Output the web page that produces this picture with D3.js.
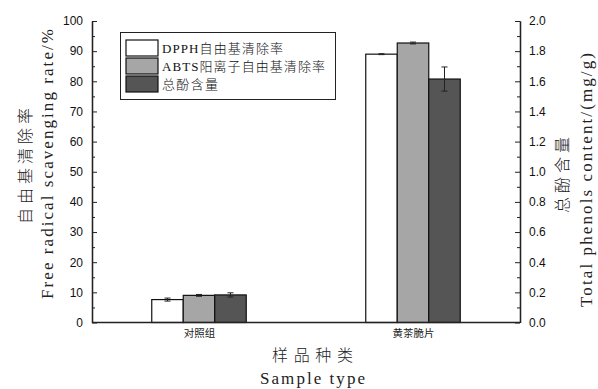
<!DOCTYPE html>
<html><head><meta charset="utf-8">
<script src="https://cdn.jsdelivr.net/npm/d3@7/dist/d3.min.js"></script>
<style>body{margin:0;background:#fff}</style>
</head><body>
<svg id="c" width="598" height="389"></svg>
<script>
const categories = ["对照组", "黄茶脆片"];
const seriesNames = ["DPPH自由基清除率", "ABTS阳离子自由基清除率", "总酚含量"];
const dpph = [7.6, 89.0];
const dpphErr = [0.5, 0.15];
const abts = [9.0, 92.7];
const abtsErr = [0.3, 0.3];
const phenols = [0.183, 1.615];
const phenolsErr = [0.014, 0.08];
const leftTicks = [0,10,20,30,40,50,60,70,80,90,100];
const rightTicks = [0,0.2,0.4,0.6,0.8,1.0,1.2,1.4,1.6,1.8,2.0];
const colors = ["#ffffff", "#a6a6a6", "#555555"];

const svg = d3.select("#c");
const L = 92, R = 520, T = 21, B = 322.5;
const yL = d3.scaleLinear().domain([0,100]).range([B,T]);
const yR = d3.scaleLinear().domain([0,2]).range([B,T]);
const x = d3.scalePoint().domain(categories).range([L,R]).padding(0.5);
const bw = 31.5;

const series = [
  {vals: dpph, err: dpphErr, y: yL},
  {vals: abts, err: abtsErr, y: yL},
  {vals: phenols, err: phenolsErr, y: yR}
];

series.forEach((s, si) => {
  categories.forEach((c, ci) => {
    const x0 = x(c) + (si - 1.5) * bw;
    const v = s.vals[ci];
    svg.append("rect").attr("x", x0).attr("y", s.y(v)).attr("width", bw)
      .attr("height", B - s.y(v)).attr("fill", colors[si]).attr("stroke", "#111").attr("stroke-width", 1.2);
    const cx = x0 + bw/2, e = s.err[ci];
    const g = svg.append("g").attr("stroke", "#222").attr("stroke-width", 1);
    g.append("line").attr("x1", cx).attr("x2", cx).attr("y1", s.y(v+e)).attr("y2", s.y(v-e));
    g.append("line").attr("x1", cx-3).attr("x2", cx+3).attr("y1", s.y(v+e)).attr("y2", s.y(v+e));
    g.append("line").attr("x1", cx-3).attr("x2", cx+3).attr("y1", s.y(v-e)).attr("y2", s.y(v-e));
  });
});

// axes
const tickFont = "Liberation Sans, Arial, sans-serif";
const la = svg.append("g").attr("transform", `translate(${L},0)`)
  .call(d3.axisLeft(yL).tickValues(leftTicks).tickSizeInner(-5).tickSizeOuter(0).tickPadding(9));
const lm = svg.append("g").attr("transform", `translate(${L},0)`)
  .call(d3.axisLeft(yL).tickValues(d3.range(5,100,10)).tickSizeInner(-3).tickSizeOuter(0).tickFormat(""));
const ra = svg.append("g").attr("transform", `translate(${R},0)`)
  .call(d3.axisRight(yR).tickValues(rightTicks).tickSizeInner(-5).tickSizeOuter(0).tickPadding(9).tickFormat(d3.format(".1f")));
const rm = svg.append("g").attr("transform", `translate(${R},0)`)
  .call(d3.axisRight(yR).tickValues(d3.range(0.1,2,0.2)).tickSizeInner(-3).tickSizeOuter(0).tickFormat(""));
const ba = svg.append("g").attr("transform", `translate(0,${B})`)
  .call(d3.axisBottom(x).tickSize(0).tickPadding(7).tickSizeOuter(0));
ba.select(".domain").attr("d", `M${L},0H${R}`);
[la, ra, lm, rm, ba].forEach(g => {
  g.selectAll(".domain").attr("stroke", "#222").attr("stroke-width", 1.3);
  g.selectAll(".tick line").attr("stroke", "#222").attr("stroke-width", 1);
});
[la, ra].forEach(g => g.selectAll("text").attr("font-family", tickFont).attr("font-size", 12).attr("fill", "#111"));
ba.selectAll("text").attr("font-family", "Noto Sans CJK SC, sans-serif").attr("font-size", 10.5).attr("fill", "#222");

// titles
const serif = "Liberation Serif, Times New Roman, Noto Sans CJK SC, serif";
function vtext(tx, ty, str, size, len) {
  svg.append("text").attr("transform", `translate(${tx},${ty}) rotate(-90)`)
    .attr("text-anchor", "middle").attr("font-family", serif).attr("font-size", size)
    .attr("font-weight", 300)
    .attr("textLength", len).attr("lengthAdjust", "spacing")
    .attr("fill", "#222").text(str);
}
vtext(31, 166, "自由基清除率", 16, 116);
vtext(53, 164, "Free radical scavenging rate/%", 17, 270);
vtext(568, 175, "总酚含量", 16, 76);
vtext(592, 180, "Total phenols content/(mg/g)", 17, 254);
svg.append("text").attr("x", 312.5).attr("y", 361).attr("text-anchor", "middle")
  .attr("font-family", serif).attr("font-size", 16).attr("font-weight", 300)
  .attr("textLength", 81).attr("lengthAdjust", "spacing")
  .attr("fill", "#222").text("样品种类");
svg.append("text").attr("x", 312.5).attr("y", 384).attr("text-anchor", "middle")
  .attr("font-family", serif).attr("font-size", 17).attr("textLength", 105).attr("lengthAdjust", "spacing")
  .attr("fill", "#222").text("Sample type");

// legend
const legendLens = [121, 163, 56];
const lg = svg.append("g");
lg.append("rect").attr("x", 120.5).attr("y", 32.5).attr("width", 215).attr("height", 67)
  .attr("fill", "#fff").attr("stroke", "#222").attr("stroke-width", 1);
seriesNames.forEach((n, i) => {
  const yy = 40 + i * 18;
  lg.append("rect").attr("x", 126).attr("y", yy).attr("width", 32).attr("height", 16)
    .attr("fill", colors[i]).attr("stroke", "#111").attr("stroke-width", 1.2);
  lg.append("text").attr("x", 162).attr("y", yy + 13).attr("font-family", serif)
    .attr("font-size", 13).attr("font-weight", 300)
    .attr("textLength", legendLens[i]).attr("lengthAdjust", "spacing")
    .attr("fill", "#111").text(n);
});
</script>
</body></html>
